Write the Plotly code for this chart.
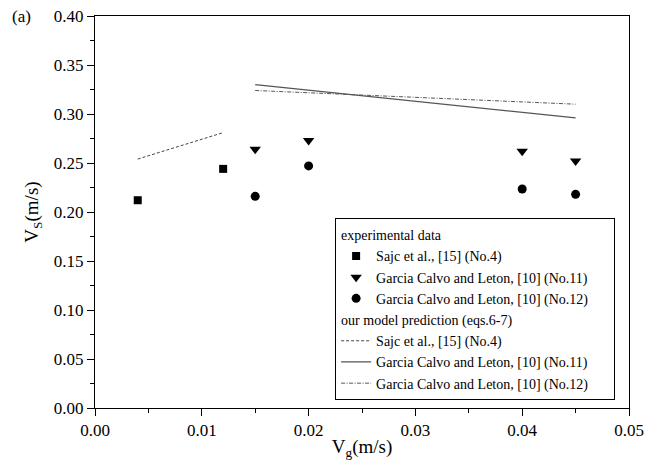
import plotly.graph_objects as go

# ---- data ----
sajc_x = [0.004, 0.012]
sajc_y = [0.212, 0.244]

no11_x = [0.015, 0.020, 0.040, 0.045]
no11_y = [0.264, 0.273, 0.262, 0.252]

no12_x = [0.015, 0.020, 0.040, 0.045]
no12_y = [0.216, 0.247, 0.2235, 0.218]

model_sajc_x = [0.004, 0.012]
model_sajc_y = [0.254, 0.281]

model_no11_x = [0.015, 0.045]
model_no11_y = [0.330, 0.296]

model_no12_x = [0.015, 0.045]
model_no12_y = [0.324, 0.310]

x_ticks = [0.00, 0.01, 0.02, 0.03, 0.04, 0.05]
y_ticks = [0.00, 0.05, 0.10, 0.15, 0.20, 0.25, 0.30, 0.35, 0.40]

FONT = '"Liberation Serif", "Times New Roman", serif'
PAD = "\u00a0" * 6  # right padding inside the legend box

fig = go.Figure()

fig.add_trace(go.Scatter(
    x=sajc_x, y=sajc_y, mode="markers", name="Sajc et al., [15] (No.4)",
    marker=dict(symbol="square", size=8, color="black"),
    legendgroup="exp", legendgrouptitle_text="experimental data"))
fig.add_trace(go.Scatter(
    x=no11_x, y=no11_y, mode="markers", name="Garcia Calvo and Leton, [10] (No.11)",
    marker=dict(symbol="triangle-down", size=10, color="black"),
    legendgroup="exp"))
fig.add_trace(go.Scatter(
    x=no12_x, y=no12_y, mode="markers", name="Garcia Calvo and Leton, [10] (No.12)",
    marker=dict(symbol="circle", size=9, color="black"),
    legendgroup="exp"))

fig.add_trace(go.Scatter(
    x=model_sajc_x, y=model_sajc_y, mode="lines", name="Sajc et al., [15] (No.4)",
    line=dict(color="#444444", width=1, dash="3px,2px"),
    legendgroup="model", legendgrouptitle_text="our model prediction (eqs.6-7)"))
fig.add_trace(go.Scatter(
    x=model_no11_x, y=model_no11_y, mode="lines", name="Garcia Calvo and Leton, [10] (No.11)",
    line=dict(color="#555555", width=1.2, dash="solid"),
    legendgroup="model"))
fig.add_trace(go.Scatter(
    x=model_no12_x, y=model_no12_y, mode="lines", name="Garcia Calvo and Leton, [10] (No.12)" + PAD,
    line=dict(color="#555555", width=1, dash="4px,1.5px,1px,1.5px"),
    legendgroup="model"))

axis_common = dict(
    showline=True, linecolor="black", linewidth=1, mirror=True,
    showgrid=False, zeroline=False, automargin=False,
    ticks="outside", ticklen=7, tickwidth=1, tickcolor="black",
    tickfont=dict(family=FONT, size=17, color="black"),
    tickformat=".2f",
)

fig.update_xaxes(
    range=[0, 0.05], tickvals=x_ticks,
    minor=dict(ticks="outside", ticklen=4, tickcolor="black",
               tickvals=[0.005, 0.015, 0.025, 0.035, 0.045]),
    title=dict(text="V<sub>g</sub>(m/s)", font=dict(family=FONT, size=19, color="black"), standoff=0),
    **axis_common)
fig.update_yaxes(
    range=[0, 0.4], tickvals=y_ticks,
    minor=dict(ticks="outside", ticklen=4, tickcolor="black",
               tickvals=[0.025, 0.075, 0.125, 0.175, 0.225, 0.275, 0.325, 0.375]),
    title=dict(text="V<sub>S</sub>(m/s)", font=dict(family=FONT, size=19, color="black"), standoff=10),
    **axis_common)

fig.add_annotation(
    text="(a)", xref="paper", yref="paper", x=-0.137, y=1.0,
    xanchor="center", yanchor="middle", showarrow=False,
    font=dict(family=FONT, size=17, color="black"))

fig.update_layout(
    template="none",
    width=658, height=469,
    margin=dict(l=95, r=29, t=16, b=61, autoexpand=False),
    paper_bgcolor="white", plot_bgcolor="white",
    font=dict(family=FONT, color="black"),
    legend=dict(
        x=0.974, y=0.02, xanchor="right", yanchor="bottom",
        bgcolor="white", bordercolor="black", borderwidth=1,
        font=dict(family=FONT, size=14, color="black"),
        grouptitlefont=dict(family=FONT, size=14, color="black"),
        tracegroupgap=0, itemwidth=30,
    ),
)

fig.write_html("out.html", config={"displayModeBar": False},
               post_script="document.body.style.margin='0px';")
